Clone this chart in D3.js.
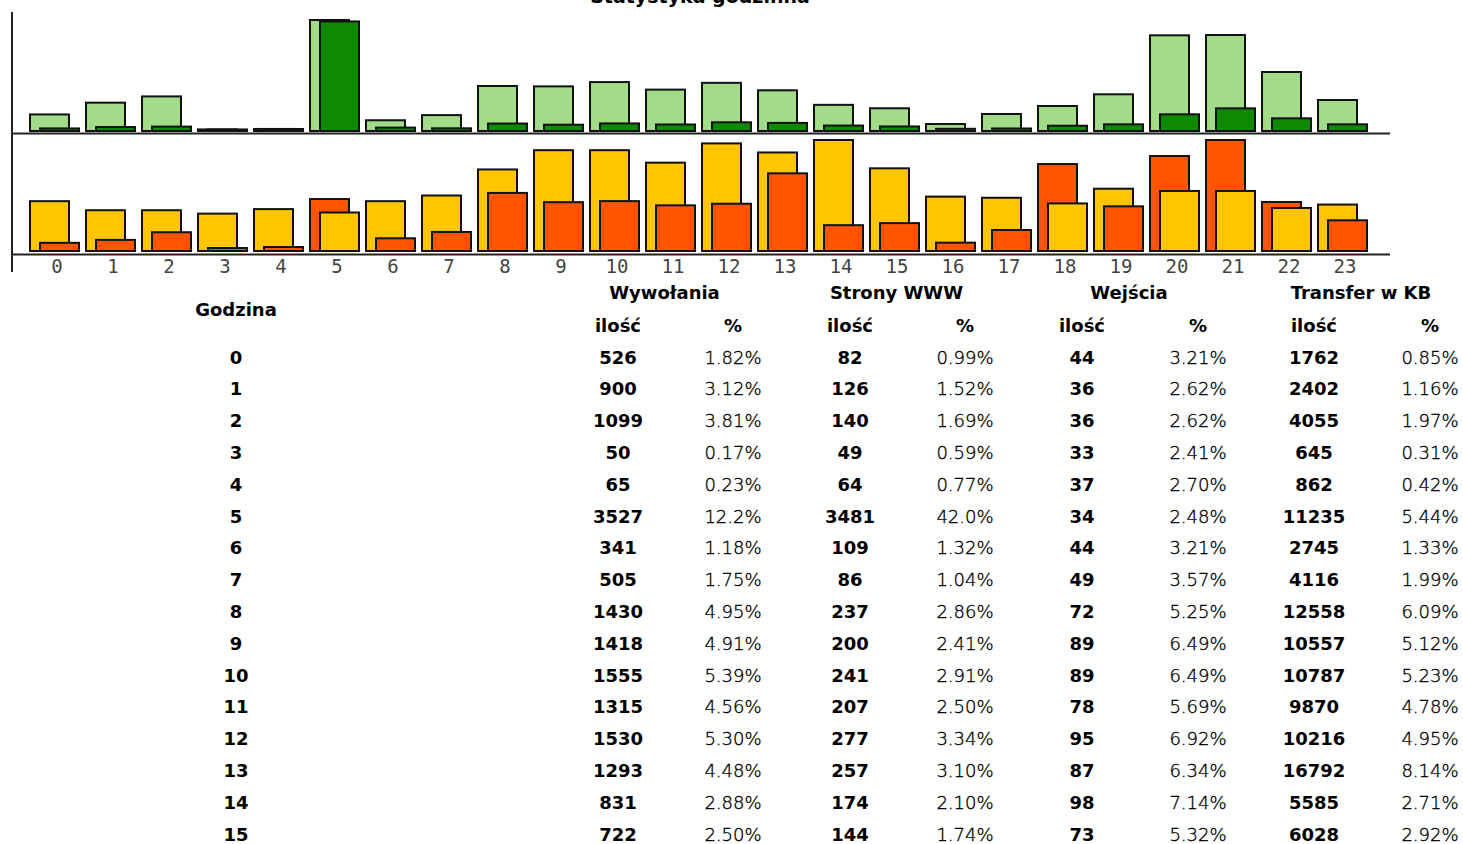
<!DOCTYPE html>
<html>
<head>
<meta charset="utf-8">
<script src="https://cdn.jsdelivr.net/npm/d3@7"></script>
<style>
  html, body { margin: 0; padding: 0; background: #fff; overflow: hidden; }
  .bold { font-family: "DejaVu Sans", Verdana, sans-serif; font-weight: bold; font-size: 18px; fill: #000; }
  .thin { font-family: "DejaVu Sans", Verdana, sans-serif; font-weight: 200; font-size: 18px; fill: #000; stroke: #000; stroke-width: 0.35px; }
  .tick { font-family: "DejaVu Sans Mono", monospace; font-size: 19px; fill: #444; }
</style>
</head>
<body>
<div id="chart"></div>
<script>
// hourly statistics
let hours    = [0,1,2,3,4,5,6,7,8,9,10,11,12,13,14,15,16,17,18,19,20,21,22,23];
let hits     = [526,900,1099,50,65,3527,341,505,1430,1418,1555,1315,1530,1293,831,722,222,540,794,1166,3040,3050,1875,985];
let pages    = [82,126,140,49,64,3481,109,86,237,200,241,207,277,257,174,144,70,80,168,212,530,720,403,212];
let visits   = [44,36,36,33,37,34,44,49,72,89,89,78,95,87,98,73,48,47,42,55,53,53,38,41];
let transfer = [1762,2402,4055,645,862,11235,2745,4116,12558,10557,10787,9870,10216,16792,5585,6028,1800,4540,18800,9660,20540,24000,10600,6640];

// table (rows visible on the page)
let hitsPct     = ["1.82%","3.12%","3.81%","0.17%","0.23%","12.2%","1.18%","1.75%","4.95%","4.91%","5.39%","4.56%","5.30%","4.48%","2.88%","2.50%"];
let pagesPct    = ["0.99%","1.52%","1.69%","0.59%","0.77%","42.0%","1.32%","1.04%","2.86%","2.41%","2.91%","2.50%","3.34%","3.10%","2.10%","1.74%"];
let visitsPct   = ["3.21%","2.62%","2.62%","2.41%","2.70%","2.48%","3.21%","3.57%","5.25%","6.49%","6.49%","5.69%","6.92%","6.34%","7.14%","5.32%"];
let transferPct = ["0.85%","1.16%","1.97%","0.31%","0.42%","5.44%","1.33%","1.99%","6.09%","5.12%","5.23%","4.78%","4.95%","8.14%","2.71%","2.92%"];
let groupNames  = ["Wywołania","Strony WWW","Wejścia","Transfer w KB"];

let W = 1463, H = 844;
let barW = 40, barShift = 10;

let svg = d3.select("#chart").append("svg")
    .attr("width", W)
    .attr("height", H);

// title, partly scrolled out of view as on the page
svg.append("text")
    .attr("x", 700).attr("y", 3)
    .attr("text-anchor", "middle")
    .attr("class", "bold")
    .style("font-size", "19px")
    .text("Statystyka godzinna");

let x = d3.scaleBand().domain(hours).range([29, 29 + 24*56]);

let yHits = d3.scaleLinear().domain([0, d3.max(hits)]).range([131, 20]);
let yVis  = d3.scaleLinear().domain([0, d3.max(visits)]).range([251, 140]);
let yTr   = d3.scaleLinear().domain([0, d3.max(transfer)]).range([251, 140]);

// taller bar goes behind, shorter one in front and shifted right
function pairBars(g, a, b, ya, yb, colA, colB)
{
	let items = [];
	hours.forEach(function(h, i) {
		let ha = ya(0) - ya(a[i]), hb = yb(0) - yb(b[i]);
		let first = {h: h, y: ya(a[i]), hgt: ha, c: colA};
		let second = {h: h, y: yb(b[i]), hgt: hb, c: colB};
		if (hb > ha) { let t = first; first = second; second = t; }
		first.dx = 0; second.dx = barShift;
		items.push(first, second);
	});
	g.selectAll("rect")
	  .data(items)
	  .enter().append("rect")
	    .attr("x", function(d) { return x(d.h) + 1 + d.dx; })
	    .attr("y", function(d) { return d.y; })
	    .attr("width", barW - 1)
	    .attr("height", function(d) { return Math.max(d.hgt, 0.5); })
	    .attr("fill", function(d) { return d.c; })
	    .attr("stroke", "#111")
	    .attr("stroke-width", 2);
}

pairBars(svg.append("g"), hits, pages, yHits, yHits, "#a3dc88", "#0f8a00");
pairBars(svg.append("g"), visits, transfer, yVis, yTr, "#ffc600", "#ff5500");

// axis lines
let axisStyle = "stroke:#222; stroke-width:2";
svg.append("line").attr("x1", 12).attr("x2", 1390).attr("y1", 133.5).attr("y2", 133.5).attr("style", axisStyle);
svg.append("line").attr("x1", 12).attr("x2", 1390).attr("y1", 254.5).attr("y2", 254.5).attr("style", axisStyle);
svg.append("line").attr("x1", 12).attr("x2", 12).attr("y1", 12).attr("y2", 272).attr("style", axisStyle);

let xAxis = d3.axisBottom(x).tickSize(0).tickPadding(0);
let ax = svg.append("g").attr("transform", "translate(0,255)").call(xAxis);
ax.select(".domain").remove();
ax.selectAll("text")
    .attr("class", "tick")
    .attr("dy", "0.95em");

// table
let colX = [618, 733, 850, 965, 1082, 1198, 1314, 1430];
let rowY = d3.scaleLinear().domain([0, 1]).range([363.5, 395.3]);

svg.append("text").attr("class", "bold").attr("text-anchor", "middle")
    .attr("x", 236).attr("y", 316).text("Godzina");

svg.selectAll("text.grp")
  .data(groupNames)
  .enter().append("text")
    .attr("class", "bold grp")
    .attr("text-anchor", "middle")
    .attr("x", function(d,i) { return (colX[2*i] + colX[2*i+1])/2 - 11; })
    .attr("y", 299)
    .text(function(d) { return d; });

svg.selectAll("text.sub")
  .data(colX)
  .enter().append("text")
    .attr("class", "bold sub")
    .attr("text-anchor", "middle")
    .attr("x", function(d) { return d; })
    .attr("y", 332)
    .text(function(d,i) { return i % 2 == 0 ? "ilość" : "%"; });

let rows = hitsPct.map(function(p, i) {
	return [String(hours[i]), hits[i], hitsPct[i], pages[i], pagesPct[i], visits[i], visitsPct[i], transfer[i], transferPct[i]];
});

let tr = svg.selectAll("g.row")
  .data(rows)
  .enter().append("g")
    .attr("class", "row")
    .attr("transform", function(d,i) { return "translate(0," + rowY(i) + ")"; });

tr.selectAll("text")
  .data(function(d) { return d; })
  .enter().append("text")
    .attr("text-anchor", "middle")
    .attr("class", function(d,i) { return (i == 0 || i % 2 == 1) ? "bold" : "thin"; })
    .attr("x", function(d,i) { return i == 0 ? 236 : colX[i-1]; })
    .text(function(d) { return d; });
</script>
</body>
</html>
